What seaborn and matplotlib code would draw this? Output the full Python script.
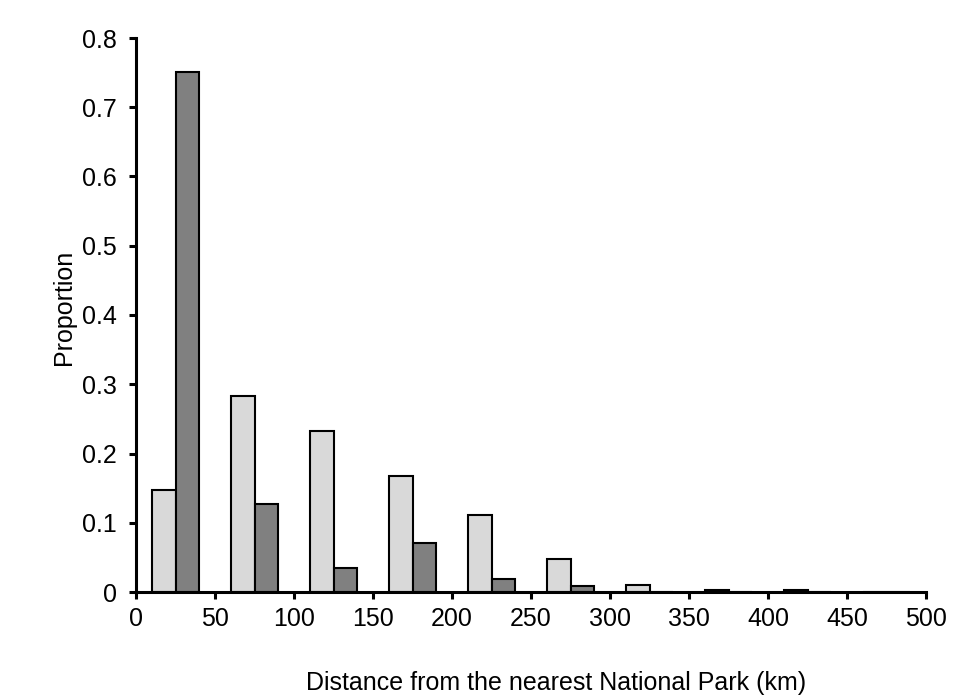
import numpy as np
import pandas as pd
import matplotlib
matplotlib.use("Agg")
import matplotlib.pyplot as plt
import seaborn as sns

# bin centres (km) and proportions for the two groups
distance = [25, 75, 125, 175, 225, 275, 325, 375, 425, 475]
light_group = [0.147, 0.283, 0.233, 0.167, 0.111, 0.048, 0.010, 0.003, 0.003, 0.0]
dark_group = [0.751, 0.127, 0.034, 0.071, 0.019, 0.008, 0.0, 0.0, 0.0, 0.0]

df = pd.DataFrame({
    "Distance": distance * 2,
    "Proportion": light_group + dark_group,
    "Group": ["light"] * len(distance) + ["dark"] * len(distance),
})

sns.set_style("ticks")
plt.rcParams["font.family"] = ["Liberation Sans", "DejaVu Sans"]

fig = plt.figure(figsize=(9.56, 6.98), dpi=100)
ax = fig.add_axes([136 / 956, 1 - 592 / 698, (926 - 136) / 956, (592 - 38) / 698])

sns.barplot(
    data=df, x="Distance", y="Proportion", hue="Group",
    hue_order=["light", "dark"],
    palette={"light": "#d9d9d9", "dark": "#808080"},
    native_scale=True, width=0.6, dodge=True,
    edgecolor="black", linewidth=1.5, legend=False, ax=ax,
)

ax.set_xlim(0, 500)
ax.set_ylim(0, 0.8)
ax.set_xticks(np.arange(0, 501, 50))
ax.set_yticks(np.arange(0, 0.81, 0.1))
ax.set_yticklabels(["0"] + [f"{v:.1f}" for v in np.arange(0.1, 0.81, 0.1)])

for s in ["top", "right"]:
    ax.spines[s].set_visible(False)
for s in ["left", "bottom"]:
    ax.spines[s].set_linewidth(2.2)
    ax.spines[s].set_color("black")
ax.tick_params(axis="both", direction="out", length=5, width=2.2,
               labelsize=18, colors="black")
ax.tick_params(axis="x", pad=6)
ax.tick_params(axis="y", pad=9)

ax.set_ylabel("Proportion", fontsize=18, color="black")
ax.yaxis.set_label_coords(-0.076, 0.513)
ax.set_xlabel("Distance from the nearest National Park (km)", fontsize=18, color="black")
ax.xaxis.set_label_coords(0.532, -0.142)

plt.savefig("out.png", dpi=100)
